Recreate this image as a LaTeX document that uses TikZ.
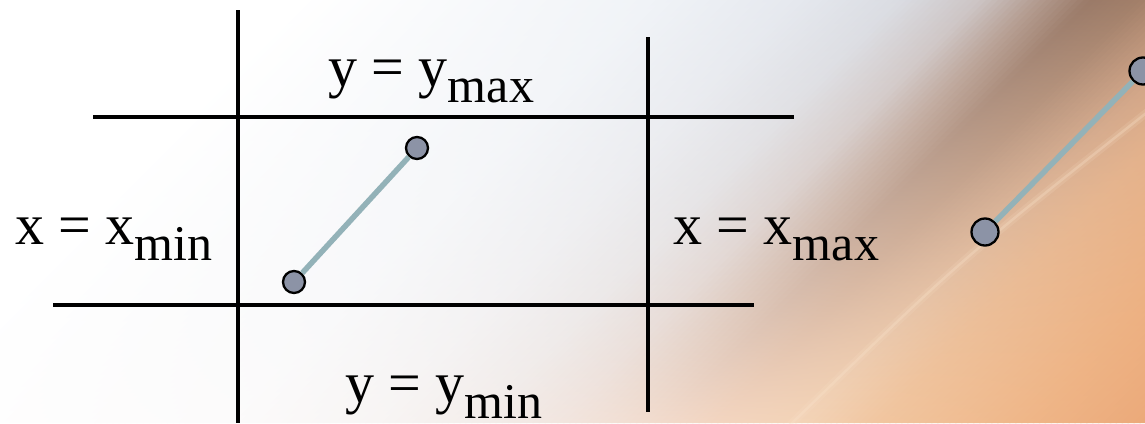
\documentclass[tikz,border=0pt]{standalone}
\usepackage{fontspec}
\setmainfont{Liberation Serif}
\definecolor{ptfill}{HTML}{8C93A6}
\definecolor{segc}{HTML}{93B2B8}
\definecolor{streakc}{HTML}{FAE4CC}
% top-row (T) and bottom-row (B) background colours along s = x + y
\definecolor{Ta}{HTML}{FFFFFF}\definecolor{Ba}{HTML}{FFFFFF}
\definecolor{Tb}{HTML}{F0F3F7}\definecolor{Bb}{HTML}{FCFBFB}
\definecolor{Tc}{HTML}{E5E8EE}\definecolor{Bc}{HTML}{F8F5F4}
\definecolor{Td}{HTML}{DADCE2}\definecolor{Bd}{HTML}{F4EEEB}
\definecolor{Te}{HTML}{CCC4C4}\definecolor{Be}{HTML}{F2E6E0}
\definecolor{Tf}{HTML}{B29A8E}\definecolor{Bf}{HTML}{F2E0D5}
\definecolor{Tg}{HTML}{9A7A68}\definecolor{Bg}{HTML}{F2DACB}
\definecolor{Th}{HTML}{A27F69}\definecolor{Bh}{HTML}{F3D5C0}
\definecolor{Ti}{HTML}{C99A7C}\definecolor{Bi}{HTML}{F3D3B6}
\definecolor{Tj}{HTML}{DCA680}\definecolor{Bj}{HTML}{F1C6A0}
\definecolor{Tk}{HTML}{E6A474}\definecolor{Bk}{HTML}{EFB688}
\definecolor{Tl}{HTML}{E8A070}\definecolor{Bl}{HTML}{EBA878}
\newcommand\subtxt[1]{\raisebox{-16pt}{\fontsize{50}{50}\selectfont #1}}
\tikzset{
  gridline/.style={line width=3.1pt, black},
  lab/.style={inner sep=0pt, anchor=base west, font=\fontsize{58}{64}\selectfont},
  pt/.style={circle, draw=black, line width=2.3pt, fill=ptfill, minimum size=22pt, inner sep=0pt},
  ptbig/.style={pt, minimum size=27pt},
  seg/.style={segc, line width=5.5pt},
}
\begin{document}
\begin{tikzpicture}[x=1pt,y=-1pt]
\useasboundingbox (0,0) rectangle (1145,423);
% ---------- background ----------
\fill[white] (0,0) rectangle (1145,423);
\begin{scope}
\clip (0,0) rectangle (1145,423);
\foreach \sa/\sb/\ta/\tb/\ba/\bb in {
  300/650/Ta/Tb/Ba/Bb, 650/800/Tb/Tc/Bb/Bc, 800/900/Tc/Td/Bc/Bd,
  900/980/Td/Te/Bd/Be, 980/1040/Te/Tf/Be/Bf, 1040/1090/Tf/Tg/Bf/Bg,
  1090/1140/Tg/Th/Bg/Bh, 1140/1230/Th/Ti/Bh/Bi, 1230/1300/Ti/Tj/Bi/Bj,
  1300/1450/Tj/Tk/Bj/Bk, 1450/1580/Tk/Tl/Bk/Bl}{
  \pgfmathtruncatemacro\n{max(1,round((\sb-\sa)/6))}
  \pgfmathsetmacro\w{(\sb-\sa)/\n}
  \foreach \i in {1,...,\n}{
    \pgfmathsetmacro\xa{\sa+(\i-1)*\w}
    \pgfmathsetmacro\xb{\sa+\i*\w+1.5}
    \pgfmathsetmacro\p{(\i-0.5)*(100/\n)}
    \shade[top color=\tb!\p!\ta, bottom color=\bb!\p!\ba]
      (\xa,0) -- (\xb,0) -- (\xb-423,423) -- (\xa-423,423) -- cycle;
  }
}
\coordinate (st1) at (1150,110);
\coordinate (stm) at (960,260);
\coordinate (st2) at (790,425);
\draw[streakc, line width=8pt, opacity=.15] (st1) .. controls (stm) .. (st2);
\draw[streakc, line width=2.5pt, opacity=.3] (st1) .. controls (stm) .. (st2);
\end{scope}
% ---------- grid ----------
\coordinate (v1t) at (238,10);  \coordinate (v1b) at (238,423);
\coordinate (v2t) at (648,37);  \coordinate (v2b) at (648,412);
\coordinate (h1l) at (93,117);  \coordinate (h1r) at (794,117);
\coordinate (h2l) at (53,305);  \coordinate (h2r) at (754,305);
\draw[gridline] (v1t) -- (v1b);
\draw[gridline] (v2t) -- (v2b);
\draw[gridline] (h1l) -- (h1r);
\draw[gridline] (h2l) -- (h2r);
% ---------- labels ----------
\node[lab] (ymax) at (328,86) {y = y\subtxt{max}};
\node[lab] (xmin) at (15,244) {x = x\subtxt{min}};
\node[lab] (xmax) at (673,244) {x = x\subtxt{max}};
\node[lab] (ymin) at (345,402) {y = y\subtxt{min}};
% ---------- segments ----------
\node[pt] (p1) at (294,282) {};
\node[pt] (p2) at (417,148) {};
\draw[seg] (p1) -- (p2);
\node[ptbig] (q1) at (985,232) {};
\node[ptbig] (q2) at (1143,71) {};
\draw[seg] (q1) -- (q2);
\end{tikzpicture}
\end{document}
